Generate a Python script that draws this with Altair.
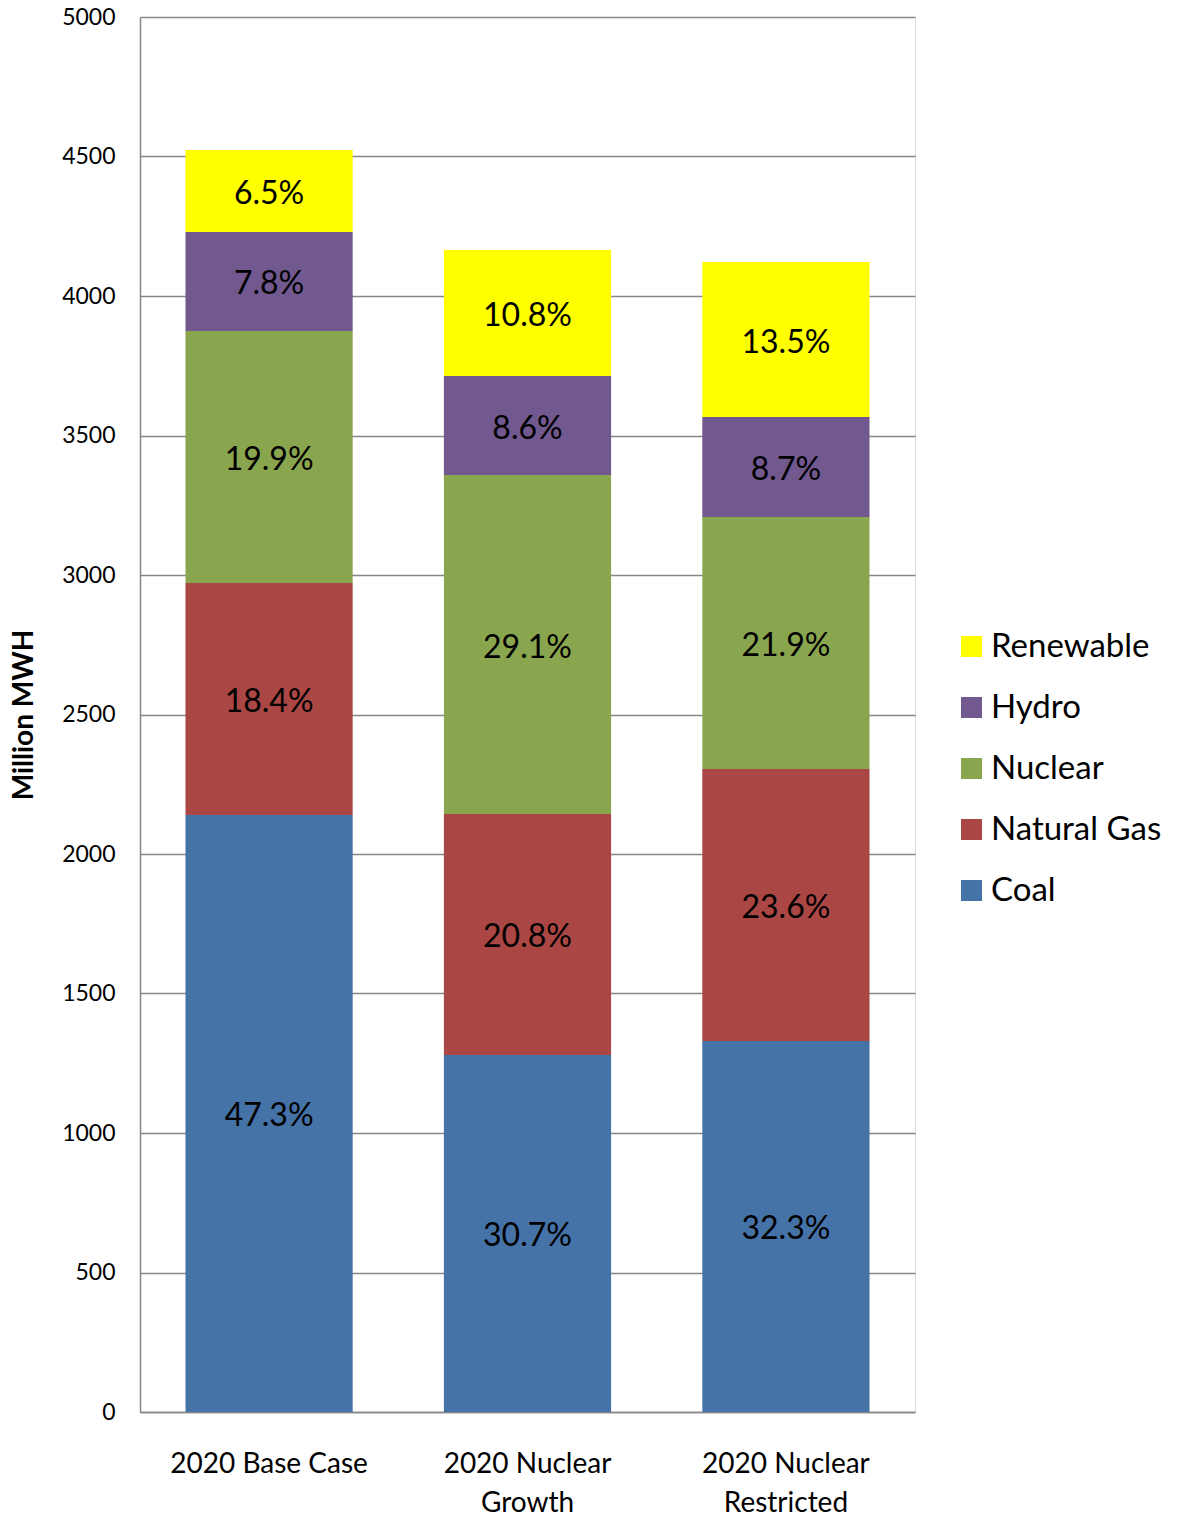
import altair as alt
import pandas as pd

scenarios = ["2020 Base Case", "2020 Nuclear|Growth", "2020 Nuclear|Restricted"]
sources = ["Coal", "Natural Gas", "Nuclear", "Hydro", "Renewable"]
legend_order = ["Renewable", "Hydro", "Nuclear", "Natural Gas", "Coal"]
colors = ["#FFFF00", "#71588F", "#89A54E", "#AA4643", "#4572A7"]

coal = [2140, 1280, 1330]
natural_gas = [831, 863, 975]
nuclear = [904, 1215, 903]
hydro = [354, 355, 358]
renewable = [294, 452, 556]

coal_pct = ["47.3%", "30.7%", "32.3%"]
gas_pct = ["18.4%", "20.8%", "23.6%"]
nuclear_pct = ["19.9%", "29.1%", "21.9%"]
hydro_pct = ["7.8%", "8.6%", "8.7%"]
renewable_pct = ["6.5%", "10.8%", "13.5%"]

values = [coal, natural_gas, nuclear, hydro, renewable]
pcts = [coal_pct, gas_pct, nuclear_pct, hydro_pct, renewable_pct]

rows = []
for si, src in enumerate(sources):
    for ci, sc in enumerate(scenarios):
        rows.append({"scenario": sc, "source": src, "order": si,
                     "value": values[si][ci], "pct": pcts[si][ci]})
df = pd.DataFrame(rows)

FONT = "Lato"

x_enc = alt.X("scenario:N", sort=scenarios,
              scale=alt.Scale(paddingInner=0.353, paddingOuter=0.176),
              axis=alt.Axis(title=None, labelAngle=0, labelFontSize=28,
                            labelExpr="split(datum.value, '|')",
                            labelLineHeight=39, labelPadding=38,
                            labelLimit=0,
                            labelColor="#000000", ticks=False,
                            domainColor="#868686", domainWidth=1.5,
                            labelFont=FONT))

base = alt.Chart(df).transform_stack(
    stack="value", groupby=["scenario"], as_=["y0", "y1"],
    sort=[alt.SortField("order", order="ascending")]
).transform_calculate(mid="(datum.y0 + datum.y1) / 2")

bars = base.mark_bar().encode(
    x=x_enc,
    y=alt.Y("y0:Q", scale=alt.Scale(domain=[0, 5000]),
            axis=alt.Axis(title="Million MWH", values=list(range(0, 5001, 500)),
                          format="d",
                          labelFontSize=23, labelFont=FONT, labelColor="#000000",
                          labelPadding=25, ticks=False,
                          domainColor="#868686", domainWidth=1.5,
                          gridColor="#868686", gridWidth=1.5,
                          titleFont=FONT, titleFontSize=28, titleFontWeight="bold",
                          titleColor="#000000", titlePadding=23)),
    y2="y1:Q",
    color=alt.Color("source:N",
                    scale=alt.Scale(domain=legend_order, range=colors),
                    legend=alt.Legend(title=None, orient="none", legendX=815, legendY=613,
                                      symbolType="square", symbolSize=441,
                                      symbolStrokeWidth=0, symbolOpacity=1,
                                      labelFontSize=33, labelFont=FONT,
                                      labelLimit=0,
                                      labelColor="#000000", rowPadding=27,
                                      labelOffset=3, padding=0)),
)

labels = base.mark_text(fontSize=32, font=FONT, color="#000000", dy=3).encode(
    x=alt.X("scenario:N", sort=scenarios),
    y=alt.Y("mid:Q"),
    text="pct:N",
)

chart = alt.layer(bars, labels).properties(
    width=775, height=1395,
    autosize=alt.AutoSizeParams(type="none"),
    padding={"left": 140, "top": 17, "right": 262, "bottom": 108},
).configure_view(stroke=None).configure(background="#ffffff")

chart.save("out.html", embed_options={"renderer": "svg", "actions": False})
